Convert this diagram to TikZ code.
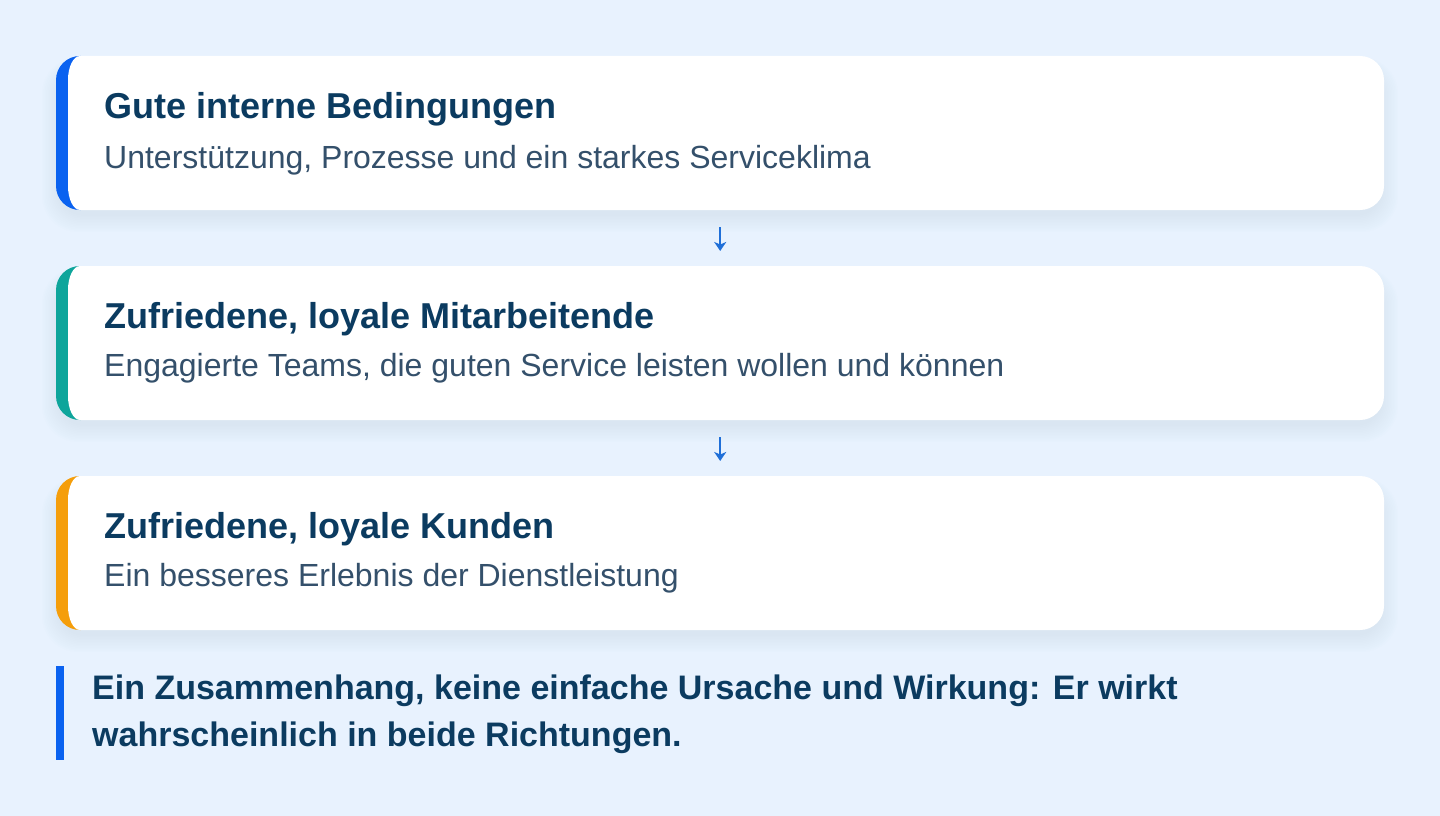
\documentclass[tikz,border=0pt]{standalone}
\usepackage{fontspec}
\setmainfont{Liberation Sans}
\usetikzlibrary{arrows.meta}
\definecolor{bg}{HTML}{E8F2FE}
\definecolor{navy}{HTML}{0B3B60}
\definecolor{slate}{HTML}{34506B}
\definecolor{accblue}{HTML}{0A62F0}
\definecolor{accteal}{HTML}{0EA59B}
\definecolor{accorange}{HTML}{F59E0B}
\definecolor{arrowblue}{HTML}{1F6FD8}
\definecolor{shadowc}{HTML}{8FB0DC}
\newcommand\cardshape[2]{%
  % #1 = top y, #2 = accent colour
  \foreach \i in {1,...,12}{
    \fill[shadowc, opacity=0.013, rounded corners=24+\i]
      (60-\i*1.5,#1+16-\i*1.2) rectangle (1380+\i*1.5,#1+154+4+\i*1.5);
  }
  \begin{scope}
    \clip (50,#1-2) rectangle (80.5,#1+156);
    \fill[#2, rounded corners=24] (56,#1) rectangle (1384,#1+154);
  \end{scope}
  \fill[white] (80,#1) -- (1360,#1) arc[start angle=-90,end angle=0,radius=24]
    -- (1384,#1+130) arc[start angle=0,end angle=90,radius=24]
    -- (80,#1+154) arc[start angle=90,end angle=180,x radius=12,y radius=24]
    -- (68,#1+24) arc[start angle=180,end angle=270,x radius=12,y radius=24]
    -- cycle;
}
\begin{document}
\begin{tikzpicture}[x=1pt,y=-1pt,
  cardnode/.style={minimum width=1328pt, minimum height=154pt, inner sep=0pt, anchor=north west},
  titletext/.style={anchor=base west, inner sep=0pt, text=navy, font=\fontsize{36}{43}\selectfont\bfseries},
  subtext/.style={anchor=base west, inner sep=0pt, text=slate, font=\fontsize{32}{38}\selectfont},
  quotetext/.style={anchor=base west, inner sep=0pt, text=navy, font=\fontsize{34}{44}\selectfont\bfseries},
  flowarrow/.style={draw=arrowblue, line width=2.2pt, -{Stealth[length=9pt,width=12pt,inset=2.5pt]}}
]
\fill[bg] (0,0) rectangle (1440,816);
\useasboundingbox (0,0) rectangle (1440,816);

\cardshape{56}{accblue}
\cardshape{266}{accteal}
\cardshape{476}{accorange}

\node[cardnode] (b1) at (56,56) {};
\node[cardnode] (b2) at (56,266) {};
\node[cardnode] (b3) at (56,476) {};

\node[titletext] (t1) at (104,118) {Gute interne Bedingungen};
\node[subtext] (s1) at (104,168) {Unterstützung, Prozesse und ein starkes Serviceklima};
\node[titletext] (t2) at (104,328) {Zufriedene, loyale Mitarbeitende};
\node[subtext] (s2) at (104,376) {Engagierte Teams, die guten Service leisten wollen und können};
\node[titletext] (t3) at (104,538) {Zufriedene, loyale Kunden};
\node[subtext] (s3) at (104,586) {Ein besseres Erlebnis der Dienstleistung};

\draw[flowarrow] ([yshift=-17pt]b1.south) -- ([yshift=15pt]b2.north);
\draw[flowarrow] ([yshift=-17pt]b2.south) -- ([yshift=15pt]b3.north);

\fill[accblue] (56,666) rectangle (64,760);
\node[quotetext] (q1) at (92,699) {Ein Zusammenhang, keine einfache Ursache und Wirkung: Er wirkt};
\node[quotetext] (q2) at (92,746) {wahrscheinlich in beide Richtungen.};
\end{tikzpicture}
\end{document}
